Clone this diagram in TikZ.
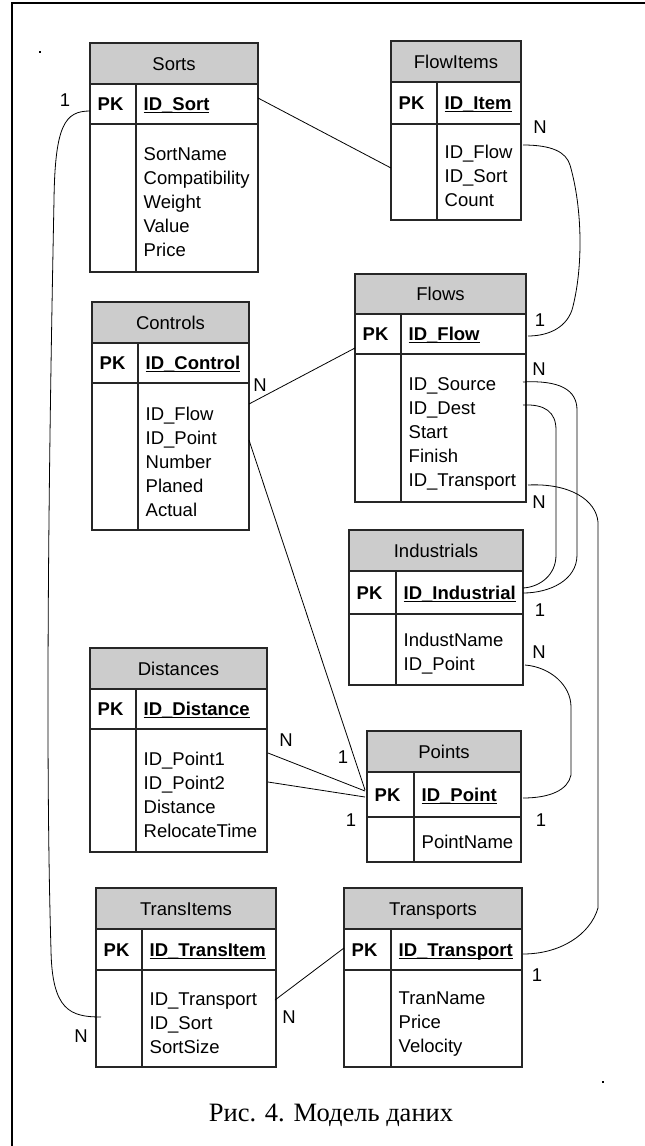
\documentclass[tikz,border=0pt]{standalone}
\usepackage{fontspec}
\setmainfont{Liberation Sans}
\newfontfamily\capfont{Liberation Serif}
\newcommand\erfont{\fontsize{18.5}{22}\selectfont}
\newcommand\keyul[1]{\setbox0\hbox{#1}\rlap{\rule[-2.8pt]{\wd0}{1.2pt}}\box0}
\tikzset{
  tbl/.style={draw=black!85, line width=1.1pt},
  headfill/.style={fill=black!20},
  ertext/.style={inner sep=0pt, font=\erfont, text=black},
  keytext/.style={inner sep=0pt, font=\erfont\bfseries, text=black, anchor=base west},
  link/.style={draw=black, line width=0.8pt},
  card/.style={inner sep=0pt, font=\erfont, text=black},
  frameline/.style={draw=black, line width=2pt},
}
% #1 name, #2 left, #3 right, #4 divider, #5 top, #6 header bottom, #7 pk bottom, #8 bottom, #9 title
\newcommand\ertable[9]{%
  \fill[headfill] (#2,#5) rectangle (#3,#6);
  \draw[tbl] (#2,#5) rectangle (#3,#8);
  \draw[tbl] (#2,#6) -- (#3,#6) (#2,#7) -- (#3,#7) (#4,#6) -- (#4,#8);
  \path (#2,#5) coordinate (#1-nw) (#3,#8) coordinate (#1-se);
  \node[ertext, anchor=base] (#1-title) at ({(#2+#3)/2},{(#5+#6)/2+6.6}) {#9};
  \node[keytext] (#1-pk) at ({#2+7.5},{(#6+#7)/2+6.6}) {PK};
}
% #1 name, #2 x, #3 first baseline, #4 list
\newcommand\erfields[4]{%
  \foreach \ftext [count=\fidx from 0] in {#4}
    \node[ertext, anchor=base west] (#1-f\fidx) at (#2,{#3+24*\fidx}) {\ftext};
}
\begin{document}
\begin{tikzpicture}[x=1pt,y=-1pt]
\useasboundingbox (0,0) rectangle (645,1146);
\fill[white] (0,0) rectangle (645,1146);
% frame
\draw[frameline] (12,1146) -- (12,3) -- (645,3);
\fill[black] (39,51) rectangle (41,53);
\fill[black] (602,1081) rectangle (604,1083);

% Sorts
\ertable{sorts}{90}{258}{136}{43}{84}{124}{272}{Sorts}
\node[keytext] (sorts-key) at (143.5,{(84+124)/2+6.6}) {\keyul{ID\_Sort}};
\erfields{sorts}{143.5}{160}{SortName,Compatibility,Weight,Value,Price}

% FlowItems
\ertable{fitems}{391}{521}{437}{41}{82}{124}{220}{FlowItems}
\node[keytext] (fitems-key) at (444.5,{(82+124)/2+6.6}) {\keyul{ID\_Item}};
\erfields{fitems}{444.5}{158}{ID\_Flow,ID\_Sort,Count}

% Controls
\ertable{ctl}{92}{249}{138}{302}{343}{383}{530}{Controls}
\node[keytext] (ctl-key) at (145.5,{(343+383)/2+6.6}) {\keyul{ID\_Control}};
\erfields{ctl}{145.5}{420}{ID\_Flow,ID\_Point,Number,Planed,Actual}

% Flows
\ertable{flows}{355}{526}{401}{274}{314}{354}{502}{Flows}
\node[keytext] (flows-key) at (408.5,{(314+354)/2+6.6}) {\keyul{ID\_Flow}};
\erfields{flows}{408.5}{390}{ID\_Source,ID\_Dest,Start,Finish,ID\_Transport}

% Industrials
\ertable{ind}{349}{523}{396}{530}{571}{614}{685}{Industrials}
\node[keytext] (ind-key) at (403.5,{(571+614)/2+6.6}) {\keyul{ID\_Industrial}};
\erfields{ind}{403.5}{646}{IndustName,ID\_Point}

% Distances
\ertable{dist}{90}{267}{136}{648}{689}{729}{852}{Distances}
\node[keytext] (dist-key) at (143.5,{(689+729)/2+6.6}) {\keyul{ID\_Distance}};
\erfields{dist}{143.5}{765}{ID\_Point1,ID\_Point2,Distance,RelocateTime}

% Points
\ertable{pts}{367}{521}{414}{731}{772}{817}{862}{Points}
\node[keytext] (pts-key) at (421.5,{(772+817)/2+6.6}) {\keyul{ID\_Point}};
\erfields{pts}{421.5}{848}{PointName}

% TransItems
\ertable{ti}{96}{276}{142}{888}{929}{970}{1067}{TransItems}
\node[keytext] (ti-key) at (149.5,{(929+970)/2+6.6}) {\keyul{ID\_TransItem}};
\erfields{ti}{149.5}{1005}{ID\_Transport,ID\_Sort,SortSize}

% Transports
\ertable{tr}{344}{522}{391}{888}{929}{970}{1067}{Transports}
\node[keytext] (tr-key) at (398.5,{(929+970)/2+6.6}) {\keyul{ID\_Transport}};
\erfields{tr}{398.5}{1004}{TranName,Price,Velocity}

% connector end points
\coordinate (sortsR) at (258,98);
\coordinate (fitemsL) at (391,168);
\coordinate (sortsPK) at (90,111);
\coordinate (tiIn) at (101,1017);
\coordinate (fiFlow) at (523,145);
\coordinate (flowsKeyR) at (528,336);
\coordinate (ctlFlow) at (249,404);
\coordinate (flowsL) at (355,348);
\coordinate (ctlPoint) at (249,440);
\coordinate (ptsA) at (365,790);
\coordinate (flSource) at (523,382);
\coordinate (indKeyA) at (523,593);
\coordinate (flDest) at (523,405);
\coordinate (indKeyB) at (523,588);
\coordinate (flTrans) at (528,485);
\coordinate (trKeyR) at (523,954);
\coordinate (indPoint) at (525,665);
\coordinate (ptsKeyR) at (523,798);
\coordinate (distP1) at (268,753);
\coordinate (ptsB) at (365,791);
\coordinate (distP2) at (268,782);
\coordinate (ptsC) at (365,797);
\coordinate (tiTrans) at (275,1000);
\coordinate (trL) at (344,948);

% connectors
\draw[link] (sortsR) -- (fitemsL);
\draw[link] (sortsPK) .. controls (65,111) and (55,125) .. (54,200)
  .. controls (49,450) and (45,750) .. (51,950)
  .. controls (52,1010) and (70,1017) .. (tiIn);
\draw[link] (fiFlow) .. controls (552,145) and (566,152) .. (570,165)
  .. controls (583,210) and (583,270) .. (572,310)
  .. controls (565,330) and (545,336) .. (flowsKeyR);
\draw[link] (ctlFlow) -- (flowsL);
\draw[link] (ctlPoint) -- (ptsA);
\draw[link] (flSource) .. controls (560,380) and (577,390) .. (577,410)
  -- (577,555) .. controls (577,580) and (550,593) .. (indKeyA);
\draw[link] (flDest) .. controls (545,404) and (556,412) .. (556,430)
  -- (556,555) .. controls (556,575) and (540,587) .. (indKeyB);
\draw[link] (flTrans) .. controls (570,483) and (596,500) .. (598,522)
  -- (598,908) .. controls (590,935) and (560,954) .. (trKeyR);
\draw[link] (indPoint) .. controls (550,667) and (571,685) .. (571,707)
  -- (571,775) .. controls (568,790) and (550,798) .. (ptsKeyR);
\draw[link] (distP1) -- (ptsB);
\draw[link] (distP2) -- (ptsC);
\draw[link] (tiTrans) -- (trL);

% cardinalities
\node[card] (c1) at (65,100) {1};
\node[card] (c2) at (540,127) {N};
\node[card] (c3) at (540,320) {1};
\node[card] (c4) at (260,385) {N};
\node[card] (c5) at (539,369) {N};
\node[card] (c6) at (539,502) {N};
\node[card] (c7) at (540,610) {1};
\node[card] (c8) at (539,652) {N};
\node[card] (c9) at (343,757) {1};
\node[card] (c10) at (351,820) {1};
\node[card] (c11) at (541,820) {1};
\node[card] (c12) at (286,740) {N};
\node[card] (c13) at (289,1017) {N};
\node[card] (c14) at (81,1036) {N};
\node[card] (c15) at (537,975) {1};

% caption
\node[inner sep=0pt, font=\capfont\fontsize{26.5}{30}\selectfont, anchor=base] (caption) at (331,1121) {Рис. 4. Модель даних};
\end{tikzpicture}
\end{document}
